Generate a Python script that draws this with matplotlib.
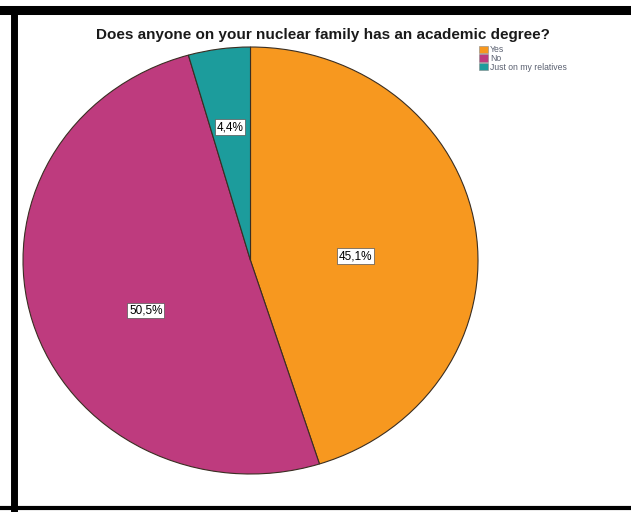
import matplotlib.pyplot as plt
from matplotlib.lines import Line2D
from matplotlib.patches import Patch

W, H = 631, 512

labels = ["Yes", "No", "Just on my relatives"]
percents = [45.1, 50.5, 4.4]
colors = ["#F7981F", "#BE3B7E", "#1C9C9C"]
title = "Does anyone on your nuclear family has an academic degree?"

plt.rcParams['font.family'] = ['Liberation Sans', 'DejaVu Sans']

fig = plt.figure(figsize=(W / 100, H / 100), dpi=100)
fig.patch.set_facecolor("white")


def px_box(left, top, right, bottom):
    # pixel box -> figure fraction rect
    return [left / W, 1 - bottom / H, (right - left) / W, (bottom - top) / H]


ax = fig.add_axes(px_box(23, 47, 478, 474))
wedges, texts = ax.pie(percents, colors=colors, startangle=90, counterclock=False,
                       wedgeprops=dict(edgecolor="#3a2e22", linewidth=0.8))
ax.set_aspect("auto")
ax.set_xlim(-1, 1)
ax.set_ylim(-1, 1)
ax.axis("off")

# percent labels, placed inside their slices
label_pos = [(0.46, 0.02), (-0.46, -0.235), (-0.09, 0.625)]
for p, (x, y) in zip(percents, label_pos):
    ax.text(x, y, f"{p:.1f}%".replace(".", ","), ha="center", va="center",
            fontsize=8.5, color="black",
            bbox=dict(boxstyle="square,pad=0.15", facecolor="white",
                      edgecolor="#555555", linewidth=0.5))

fig.text(323 / W, 1 - 35 / H, title, ha="center", va="center",
         fontsize=11, fontweight="bold", color="#1a1a1a")

handles = [Patch(facecolor=c, edgecolor="#888888", linewidth=0.4) for c in colors]
fig.legend(handles, labels, loc="upper left", bbox_to_anchor=(476 / W, 1 - 42 / H),
           frameon=False, fontsize=6.2, handlelength=1.0, handleheight=0.9,
           handletextpad=0.2, labelspacing=-0.05, borderaxespad=0,
           labelcolor="#5a6070")

# frame lines around the chart
fig.add_artist(Line2D([0, 1], [1 - 10 / H, 1 - 10 / H], color="black", linewidth=6.5))
fig.add_artist(Line2D([14 / W, 14 / W], [0, 1 - 10 / H], color="black", linewidth=5))
fig.add_artist(Line2D([0, 1], [1 - 508 / H, 1 - 508 / H], color="black", linewidth=3))

fig.savefig("out.png", dpi=100)
